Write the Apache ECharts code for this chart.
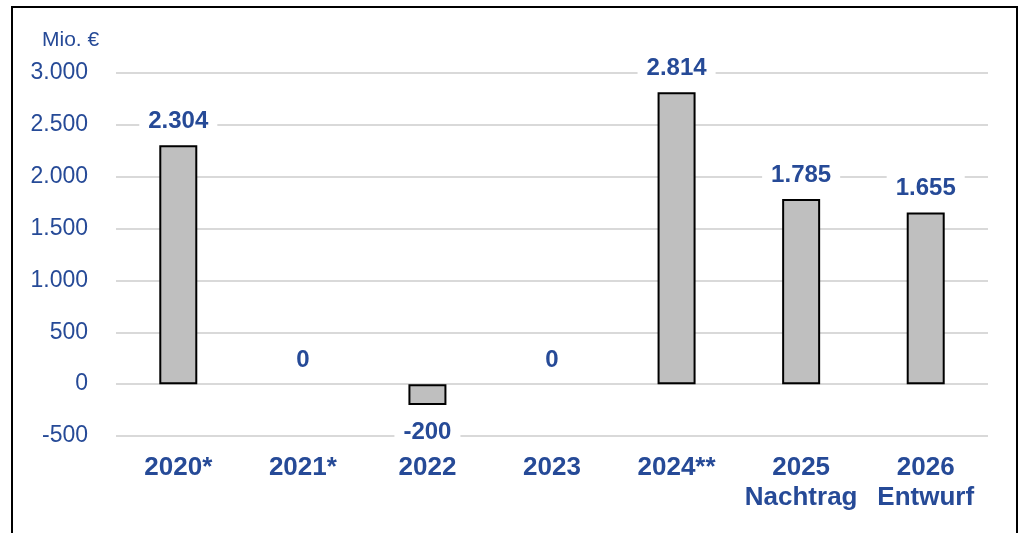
<!DOCTYPE html>
<html>
<head>
<meta charset="utf-8">
<script src="https://cdn.jsdelivr.net/npm/echarts@6/dist/echarts.min.js"></script>
<style>
html,body{margin:0;padding:0;background:#fff;}
#chart{width:1022px;height:533px;}
</style>
</head>
<body>
<div id="chart"></div>
<script>
const categories = ['2020*', '2021*', '2022', '2023', '2024**', '2025\nNachtrag', '2026\nEntwurf'];
const values = [2304, 0, -200, 0, 2814, 1785, 1655];
const unitLabel = 'Mio. €';
const yMin = -500, yMax = 3000, yStep = 500;

const BLUE = '#264a97';
const FONT = '"Liberation Sans", Arial, sans-serif';
const fmt = v => String(v).replace(/\B(?=(\d{3})+(?!\d))/g, '.');

const chart = echarts.init(document.getElementById('chart'), null, {renderer: 'canvas'});
chart.setOption({
  animation: false,
  backgroundColor: '#fff',
  grid: {left: 116, right: 34, top: 73, bottom: 97, containLabel: false},
  graphic: [
    {type: 'rect', shape: {x: 12, y: 7, width: 1005, height: 600},
     style: {fill: 'none', stroke: '#000', lineWidth: 2}, silent: true},
    {type: 'text', left: 42, top: 30,
     style: {text: unitLabel, fill: BLUE, font: '21px ' + FONT}}
  ],
  xAxis: {
    type: 'category',
    data: categories,
    axisLine: {show: false, onZero: false},
    axisTick: {show: false},
    axisLabel: {color: BLUE, fontSize: 26, fontWeight: 'bold', fontFamily: FONT, lineHeight: 30, margin: 17, interval: 0}
  },
  yAxis: {
    type: 'value',
    min: yMin, max: yMax, interval: yStep,
    axisLine: {show: false},
    axisTick: {show: false},
    splitLine: {lineStyle: {color: '#d9d9d9', width: 2}},
    axisLabel: {color: BLUE, fontSize: 23, fontFamily: FONT, margin: 28, formatter: fmt}
  },
  series: [{
    type: 'bar',
    barWidth: 38,
    data: values.map(v => {
      if (v < 0) return {value: v, label: {position: 'bottom', distance: 13}};
      if (v === 0) return {value: v, itemStyle: {borderWidth: 0, color: 'rgba(0,0,0,0)'}};
      return {value: v};
    }),
    itemStyle: {color: '#bfbfbf', borderColor: '#000', borderWidth: 2},
    label: {
      show: true, position: 'top', distance: 10,
      color: BLUE, fontSize: 24, fontWeight: 'bold', fontFamily: FONT,
      backgroundColor: '#fff', padding: [2, 9],
      formatter: p => fmt(p.value)
    }
  }]
});
</script>
</body>
</html>
